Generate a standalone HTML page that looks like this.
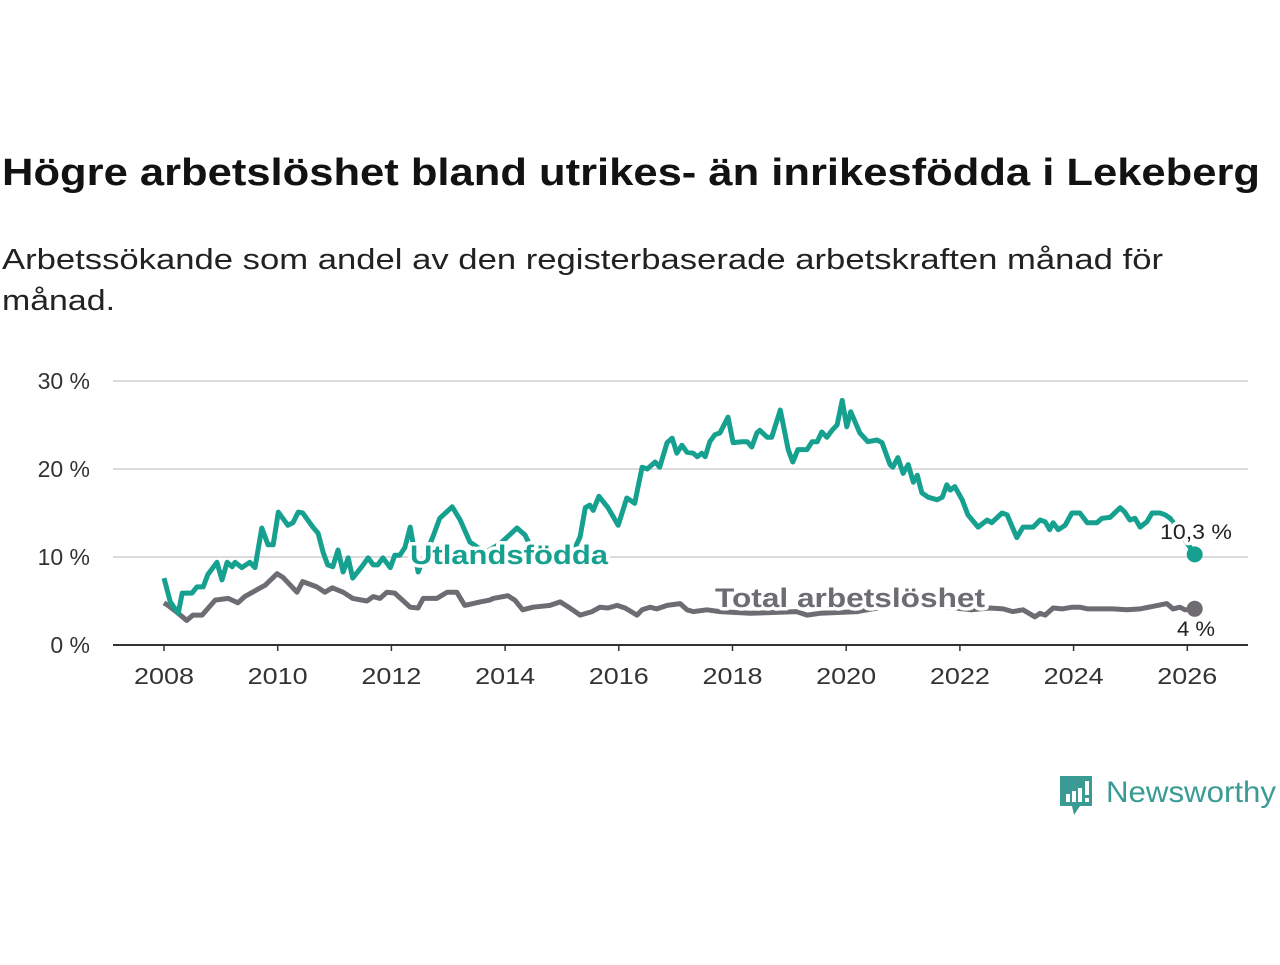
<!DOCTYPE html>
<html><head><meta charset="utf-8"><style>
body{margin:0;background:#fff;width:1280px;height:960px;overflow:hidden;font-family:"Liberation Sans",sans-serif}
</style></head><body>
<svg width="1280" height="960" xmlns="http://www.w3.org/2000/svg">
<text x="2" y="185" font-size="38" font-weight="bold" fill="#121212" textLength="1258" lengthAdjust="spacingAndGlyphs">Högre arbetslöshet bland utrikes- än inrikesfödda i Lekeberg</text>
<text x="2" y="269" font-size="29" fill="#222" textLength="1161" lengthAdjust="spacingAndGlyphs">Arbetssökande som andel av den registerbaserade arbetskraften månad för</text>
<text x="2" y="310" font-size="29" fill="#222" textLength="113" lengthAdjust="spacingAndGlyphs">månad.</text>
<g id="grid"></g>
<g id="xaxis"></g>
<g id="lines"></g>
<g>
<path d="M1060 776 h32 v30 h-12 l-6 9 l-2 -9 h-12 z" fill="#3a9b94"/>
<rect x="1066" y="794" width="4" height="8" fill="#fff"/><rect x="1072" y="791" width="4" height="11" fill="#fff"/><rect x="1078" y="788" width="4" height="14" fill="#fff"/><rect x="1085" y="781" width="4" height="14" fill="#fff"/><rect x="1085" y="798" width="4" height="4" fill="#fff"/>
<text x="1106" y="802" font-size="30" fill="#3a9b94" textLength="170" lengthAdjust="spacingAndGlyphs">Newsworthy</text>
</g>
</svg>
<script>
const yTicks=[0,10,20,30];
const yTickLabels=["0 %","10 %","20 %","30 %"];
const xTicks=[2008,2010,2012,2014,2016,2018,2020,2022,2024,2026];
const foreignT=[0,0.11,0.25,0.32,0.49,0.58,0.69,0.77,0.93,1.02,1.11,1.20,1.25,1.37,1.51,1.60,1.72,1.83,1.92,2.01,2.09,2.18,2.27,2.36,2.44,2.62,2.71,2.80,2.88,2.97,3.06,3.15,3.24,3.32,3.48,3.59,3.68,3.76,3.85,3.98,4.06,4.15,4.24,4.33,4.47,4.73,4.85,5.07,5.21,5.38,5.65,5.91,6.21,6.35,6.58,6.88,7.14,7.32,7.41,7.49,7.55,7.65,7.81,7.99,8.14,8.28,8.41,8.50,8.64,8.72,8.85,8.94,9.02,9.11,9.20,9.31,9.38,9.46,9.52,9.60,9.69,9.78,9.92,10.01,10.17,10.26,10.34,10.43,10.48,10.61,10.69,10.84,10.98,11.06,11.15,11.31,11.40,11.49,11.57,11.66,11.75,11.84,11.93,12.01,12.08,12.24,12.38,12.54,12.63,12.77,12.82,12.91,13.00,13.09,13.18,13.25,13.33,13.44,13.60,13.69,13.77,13.83,13.91,14.04,14.14,14.32,14.48,14.56,14.74,14.83,15.00,15.11,15.29,15.41,15.50,15.58,15.64,15.73,15.85,15.97,16.11,16.24,16.41,16.50,16.64,16.82,16.90,16.99,17.08,17.17,17.29,17.38,17.52,17.61,17.70,17.85,18.13];
const foreignV=[7.6,4.9,3.6,5.9,5.9,6.6,6.6,8.0,9.4,7.4,9.4,8.9,9.4,8.8,9.4,8.8,13.3,11.4,11.4,15.1,14.4,13.6,13.9,15.1,15.0,13.4,12.7,10.5,9.1,8.9,10.8,8.3,9.9,7.6,8.9,9.9,9.1,9.1,9.9,8.8,10.2,10.2,11.1,13.4,8.3,12.3,14.4,15.7,14.2,11.7,10.5,11.5,13.3,12.5,9.5,9.5,9.8,12.3,15.6,15.9,15.3,16.9,15.6,13.6,16.7,16.1,20.2,20.0,20.8,20.2,23.0,23.5,21.8,22.7,21.9,21.8,21.4,21.8,21.4,23.1,23.9,24.1,25.9,23.0,23.1,23.1,22.5,24.1,24.4,23.6,23.6,26.7,22.2,20.8,22.2,22.2,23.1,23.1,24.2,23.6,24.4,25.0,27.8,24.8,26.5,24.1,23.1,23.3,23.0,20.5,20.2,21.3,19.5,20.5,18.5,19.3,17.3,16.8,16.5,16.8,18.2,17.6,18.0,16.5,14.8,13.4,14.2,13.9,15.0,14.8,12.2,13.4,13.4,14.2,14.0,13.1,13.9,13.1,13.6,15.0,15.0,13.9,13.9,14.4,14.5,15.6,15.1,14.2,14.4,13.4,14.0,15.0,15.0,14.8,14.4,13.0,10.3];
const totalT=[0,0.07,0.25,0.4,0.51,0.67,0.9,1.13,1.3,1.42,1.64,1.78,1.99,2.09,2.34,2.44,2.69,2.83,2.96,3.15,3.32,3.57,3.68,3.8,3.92,4.06,4.33,4.47,4.56,4.8,4.98,5.15,5.29,5.56,5.73,5.79,6.05,6.17,6.31,6.49,6.79,6.97,7.14,7.32,7.53,7.67,7.81,7.97,8.11,8.32,8.41,8.55,8.67,8.85,9.08,9.2,9.31,9.55,9.78,10.31,11.13,11.31,11.54,12.2,12.8,13.3,13.8,14.2,14.53,14.76,14.93,15.11,15.32,15.41,15.5,15.64,15.8,15.97,16.11,16.25,16.46,16.69,16.94,17.17,17.4,17.64,17.75,17.87,17.96,18.13];
const totalV=[4.8,4.5,3.6,2.8,3.4,3.4,5.1,5.3,4.8,5.5,6.3,6.8,8.1,7.7,6.0,7.2,6.6,6.0,6.5,6.0,5.3,5.0,5.5,5.3,6.0,5.9,4.3,4.2,5.3,5.3,6.0,6.0,4.5,4.9,5.1,5.3,5.6,5.1,4.0,4.3,4.5,4.9,4.2,3.4,3.8,4.3,4.2,4.5,4.2,3.4,4.0,4.3,4.1,4.5,4.7,4.0,3.8,4.0,3.8,3.6,3.8,3.4,3.6,3.8,4.5,4.6,4.3,4.0,4.2,4.1,3.8,4.0,3.2,3.6,3.4,4.2,4.1,4.3,4.3,4.1,4.1,4.1,4.0,4.1,4.4,4.7,4.1,4.3,4.0,4.0];
const NS="http://www.w3.org/2000/svg";
const X0=164,PXY=56.85,Y0=645,PYV=8.8;
function xs(t){return X0+t*PXY;}
function xy(year){return X0+(year-2008)*PXY;}
function ys(v){return Y0-v*PYV;}
function mk(tag,attrs,parent){const e=document.createElementNS(NS,tag);for(const k in attrs)e.setAttribute(k,attrs[k]);parent.appendChild(e);return e;}
const grid=document.getElementById('grid');
yTicks.forEach((v,i)=>{
  if(v>0){const l=mk('line',{x1:113,x2:1248,y1:ys(v),y2:ys(v),stroke:'#dcdcdc','stroke-width':2},grid);
  
  }
  const t=mk('text',{x:90,y:ys(v)+8,'text-anchor':'end','font-size':23,fill:'#333'},grid);
  t.textContent=yTickLabels[i];
  
  
});
const xa=document.getElementById('xaxis');
const ax=mk('line',{x1:113,x2:1248,y1:Y0,y2:Y0,stroke:'#333','stroke-width':2},xa);


xTicks.forEach(yr=>{
  mk('line',{x1:xy(yr),x2:xy(yr),y1:Y0,y2:Y0+6,stroke:'#333','stroke-width':1.5},xa);
  const t=mk('text',{x:xy(yr),y:684,'text-anchor':'middle','font-size':23,fill:'#333',textLength:60,lengthAdjust:'spacingAndGlyphs'},xa);
  t.textContent=yr;
  
  
});
const lg=document.getElementById('lines');
function path(T,V){return T.map((t,i)=>(i?'L':'M')+xs(t).toFixed(1)+' '+ys(V[i]).toFixed(1)).join(' ');}
const pt=mk('path',{d:path(totalT,totalV),fill:'none',stroke:'#6e6c72','stroke-width':5,'stroke-linejoin':'round'},lg);


const pf=mk('path',{d:path(foreignT,foreignV),fill:'none',stroke:'#16a08f','stroke-width':5,'stroke-linejoin':'round'},lg);


const lastF=foreignT.length-1,lastT=totalT.length-1;
const d1=mk('circle',{cx:xs(foreignT[lastF]),cy:ys(foreignV[lastF]),r:8,fill:'#16a08f'},lg);


const d2=mk('circle',{cx:xs(totalT[lastT]),cy:ys(totalV[lastT])-1,r:8,fill:'#6e6c72'},lg);


function lab(x,y,txt,size,col,bold,anchor,name,len){
  const t=mk('text',{x:x,y:y,'font-size':size,fill:col,'font-weight':bold?'bold':'normal','text-anchor':anchor,stroke:'#fff','stroke-width':7,'paint-order':'stroke','stroke-linejoin':'round',textLength:len,lengthAdjust:'spacingAndGlyphs'},lg);
  t.textContent=txt;
  
  
}
lab(410,564,'Utlandsfödda',27,'#16a08f',true,'start','foreign-born-label',198);
lab(715,607,'Total arbetslöshet',27,'#6e6c72',true,'start','total-label',270);
lab(1196,539,'10,3 %',21,'#222',false,'middle','foreign-born-end-value',72);
lab(1196,636,'4 %',21,'#222',false,'middle','total-end-value',38);
</script>
</body></html>
